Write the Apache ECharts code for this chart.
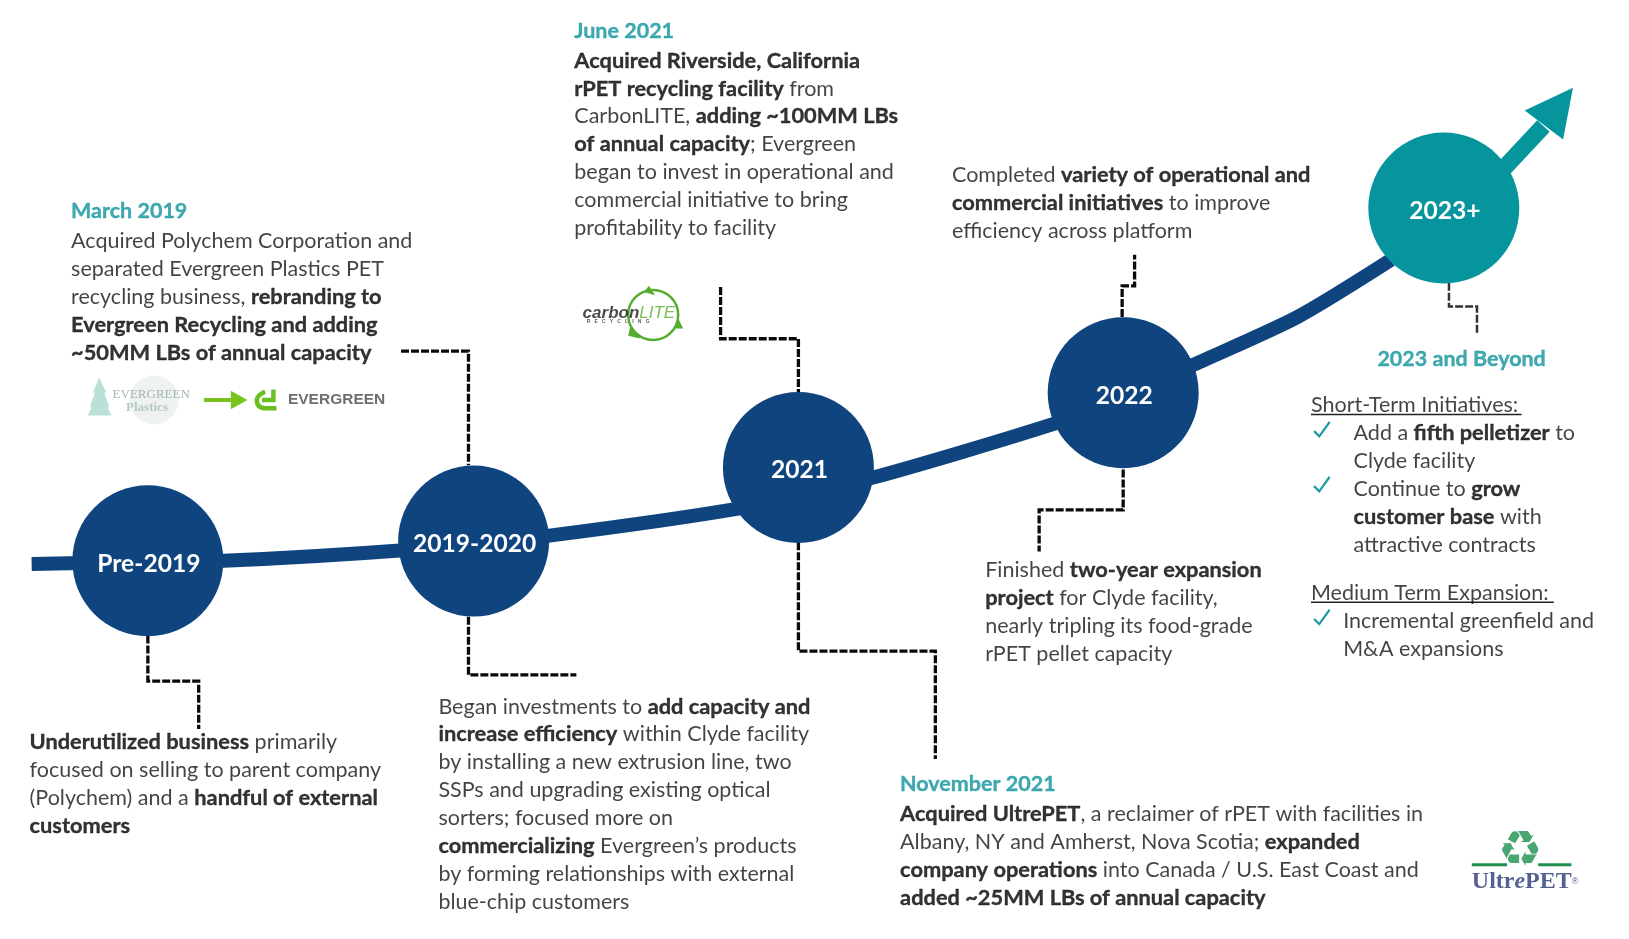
<!DOCTYPE html>
<html><head><meta charset="utf-8">
<style>html,body{margin:0;padding:0;background:#fff}#c{width:1629px;height:939px}</style>
<script src="https://cdn.jsdelivr.net/npm/echarts@6/dist/echarts.min.js"></script>
</head><body><div id="c"></div>
<script>
// Timeline spine and milestones
const spine = [[30,543],[142,541],[215,540],[385,530],[456,522],[527,516],[715,489],[769,474],[840,460],[1015,408],[1082,382],[1150,351],[1250,305],[1340,250]];
const shaft = [[1431,181],[1487,121]];
const arrowHead = [[1515.5,84],[1469,106],[1506,134]];
const milestones = ['Pre-2019','2019-2020','2021','2022','2023+'];
const milestoneX = [142,456,769,1082,1391];
const milestoneY = [540,521,450,378,200];
// Dashed connectors
const connectors = [
 [[142,612],[142,656],[191,656],[191,702]],
 [[386,338],[451,338],[451,448]],
 [[451,594],[451,650],[555,650]],
 [[694,276],[694,326],[769,326],[769,378]],
 [[769,522],[769,627],[901,627],[901,731]],
 [[1081,305],[1081,275],[1093,275],[1093,245]],
 [[1082,452],[1082,491],[1001,491],[1001,531]],
 [[1396,272],[1396,295],[1423,295],[1423,321]]
];
// Text blocks: [x, y, markup]   **bold**
const headings = [[68,203,'March 2019'],[553,29,'June 2021'],[867,755,'November 2021'],[1327,346,'2023 and Beyond']];
const marchText = [[68,232,'Acquired Polychem Corporation and'],[68,259,'separated Evergreen Plastics PET'],[68,286,'recycling business, **rebranding to**'],[68,313,'**Evergreen Recycling and adding**'],[68,340,'**~50MM LBs of annual capacity**']];
const juneText = [[553,58,'**Acquired Riverside, California**'],[553,85,'**rPET recycling facility** from'],[553,111,'CarbonLITE, **adding ~100MM LBs**'],[553,138,'**of annual capacity**; Evergreen'],[553,165,'began to invest in operational and'],[553,192,'commercial initiative to bring'],[553,219,'profitability to facility']];
const completedText = [[917,168,'Completed **variety of operational and**'],[917,195,'**commercial initiatives** to improve'],[917,222,'efficiency across platform']];
const preText = [[28,715,'**Underutilized business** primarily'],[28,742,'focused on selling to parent company'],[28,769,'(Polychem) and a **handful of external**'],[28,796,'**customers**']];
const investText = [[422,681,'Began investments to **add capacity and**'],[422,707,'**increase efficiency** within Clyde facility'],[422,734,'by installing a new extrusion line, two'],[422,761,'SSPs and upgrading existing optical'],[422,788,'sorters; focused more on'],[422,815,'**commercializing** Evergreen’s products'],[422,842,'by forming relationships with external'],[422,869,'blue-chip customers']];
const finishedText = [[949,549,'Finished **two-year expansion**'],[949,576,'**project** for Clyde facility,'],[949,603,'nearly tripling its food-grade'],[949,630,'rPET pellet capacity']];
const novText = [[867,784,'**Acquired UltrePET**, a reclaimer of rPET with facilities in'],[867,811,'Albany, NY and Amherst, Nova Scotia; **expanded**'],[867,838,'**company operations** into Canada / U.S. East Coast and'],[867,865,'**added ~25MM LBs of annual capacity**']];
const beyondText = [[1263,390,'Short-Term Initiatives:'],[1304,417,'Add a **fifth pelletizer** to'],[1304,444,'Clyde facility'],[1304,471,'Continue to **grow**'],[1304,498,'**customer base** with'],[1304,525,'attractive contracts'],[1263,571,'Medium Term Expansion:'],[1294,598,'Incremental greenfield and'],[1294,625,'M&A expansions']];
const underlines = [[[1263,399],[1466,399]],[[1263,580],[1497,580]]];
const checks = [
 [[1266,415],[1271,420],[1281,406]],
 [[1266,468],[1271,473],[1281,459]],
 [[1266,596],[1271,601],[1281,587]]
];
// Logos
const logoPolys = [
 {fill:'#bbe0d8',pts:[[95,363],[89,378],[91,378],[86,392],[88,392],[84,400],[107,400],[103,392],[105,392],[100,378],[102,378]]},
 {fill:'#7ac31e',pts:[[222,376],[238,385],[222,394]]},
 {fill:'#55ae32',pts:[[620,281],[625,275],[631,284]]},
 {fill:'#55ae32',pts:[[653,306],[649,316],[658,316]]},
 {fill:'#55ae32',pts:[[607,313],[605,323],[617,326]]}
];
const logoLines = [
 {color:'#7ac31e',w:4,pts:[[196,385],[224,385]]},
 {color:'#1e8f4e',w:3,pts:[[1418,833],[1452,833]]},
 {color:'#1e8f4e',w:3,pts:[[1482,833],[1514,833]]},
 {color:'#6cbf20',w:4.5,smooth:0.6,pts:[[255,377],[247,385],[256,393],[266,393]]},
 {color:'#6cbf20',w:4.5,pts:[[252,385],[263,385],[263,375]]}
];
const logoRings = [{x:148,y:385,size:48,fill:'#eef3f2',border:'#eef3f2',w:1},{x:629,y:303,size:50,fill:'none',border:'#55ae32',w:2.5}];
const logoTexts = [
 [108,380,'{eg|EVERGREEN}'],[121,392,'{ep|Plastics}'],[277,385,'{e2|EVERGREEN}'],
 [561,301,'{cb|carbon}{cl|LITE}'],[565,309,'{cr|R   E   C   Y   C   L   I   N   G}'],[1418,849,'{up|Ultr}{upi|e}{up|PET}{ur|®}'],[1443,822,'{rc|♻}']
];

const FONT='Lato';
const TEAL='#07959d', NAVY='#0f447e', INK='#141414';
const rich = {
 r:{fontFamily:FONT,fontSize:21.5,color:INK,fontWeight:400},
 b:{fontFamily:FONT,fontSize:21.8,color:'#000',fontWeight:700,textBorderColor:'#000',textBorderWidth:0.35},
 t:{fontFamily:FONT,fontSize:21.5,color:'#0f939b',fontWeight:700,textBorderColor:'#0f939b',textBorderWidth:0.35},
 eg:{fontFamily:'Liberation Serif',fontSize:13,color:'#8fa5a0'},
 ep:{fontFamily:'Liberation Serif',fontSize:13,color:'#a9bcb8',fontWeight:700},
 e2:{fontFamily:'Liberation Sans',fontSize:15.5,color:'#4a4a4a',fontWeight:700},
 cb:{fontFamily:'Liberation Sans',fontSize:17,color:'#1c1c1c',fontWeight:700,fontStyle:'italic'},
 cl:{fontFamily:'Liberation Sans',fontSize:17,color:'#55ae32',fontStyle:'italic'},
 cr:{fontFamily:'Liberation Sans',fontSize:5,color:'#333',fontWeight:700},
 up:{fontFamily:'Liberation Serif',fontSize:24,color:'#2b3a75',fontWeight:700},
 upi:{fontFamily:'Liberation Serif',fontSize:24,color:'#2b3a75',fontWeight:700,fontStyle:'italic'},
 ur:{fontFamily:'Liberation Sans',fontSize:9,color:'#2b3a75'},
 rc:{fontFamily:'DejaVu Sans',fontSize:50,color:'#1e8f4e'}
};
function mark(s){
 return s.split('**').map((p,i)=>p===''?'':(i%2?'{b|'+p+'}':'{r|'+p+'}')).join('');
}
const bodyLines = [].concat(marchText,juneText,completedText,preText,investText,finishedText,novText,beyondText)
  .map(d=>[d[0],d[1],mark(d[2])]);
const headLines = headings.map(d=>[d[0],d[1],'{t|'+d[2]+'}']);
const allText = bodyLines.concat(headLines,logoTexts);

const polyRender = (params,api)=>{
  const i = api.value(0);
  const p = i===-1 ? arrowHead : logoPolys[i].pts;
  const fill = i===-1 ? TEAL : logoPolys[i].fill;
  return {type:'polygon',shape:{points:p.map(q=>api.coord(q))},style:{fill}};
};
const lineSeries=(pts,color,w,extra)=>Object.assign({type:'line',data:pts,symbol:'none',silent:true,
  lineStyle:{color,width:w,cap:'butt',join:'miter'},z:3,clip:false},extra||{});

const series = [
 lineSeries(spine,NAVY,14,{smooth:0.25,z:2}),
 lineSeries(shaft,TEAL,17,{z:2}),
 {type:'custom',renderItem:polyRender,data:[[-1,0],[0,0],[1,0],[2,0],[3,0],[4,0]],silent:true,z:4,clip:false},
 ...connectors.map((c,i)=>lineSeries(c,'#111',3,{lineStyle:{color:i===7?'#333':'#0a0a0a',width:i===7?2.5:3.3,type:[8,2],cap:'butt',join:'miter'},z:3})),
 ...underlines.map(u=>lineSeries(u,'#222',1.5)),
 ...checks.map(c=>lineSeries(c,'#1a9aa2',2.2)),
 ...logoLines.map(l=>lineSeries(l.pts,l.color,l.w,{smooth:l.smooth||false})),
 ...logoRings.map(r=>({type:'scatter',silent:true,z:1,symbolSize:r.size,data:[[r.x,r.y]],
    itemStyle:{color:r.fill==='none'?'rgba(255,255,255,0)':r.fill,borderColor:r.border,borderWidth:r.w,opacity:1}})),
 {type:'scatter',silent:true,z:5,symbol:'circle',symbolSize:151,
  data:milestones.map((m,i)=>({value:[milestoneX[i],milestoneY[i]],name:m,itemStyle:{color:i===4?TEAL:NAVY,opacity:1}})),
  label:{show:true,position:'inside',offset:[1,3],formatter:p=>p.name,color:'#fff',fontFamily:FONT,fontWeight:700,fontSize:24.6}},
 {type:'scatter',silent:true,z:6,symbolSize:0,data:allText,
  label:{show:true,position:'right',distance:0,formatter:p=>p.data[2],rich}}
];
const chart = echarts.init(document.getElementById('c'));
chart.setOption({
 animation:false,backgroundColor:'#fff',
 grid:{left:0,right:0,top:0,bottom:0},
 xAxis:{type:'value',min:-0.5,max:1569.5,show:false},
 yAxis:{type:'value',min:-0.5,max:904.5,inverse:true,show:false},
 series
});
</script></body></html>
